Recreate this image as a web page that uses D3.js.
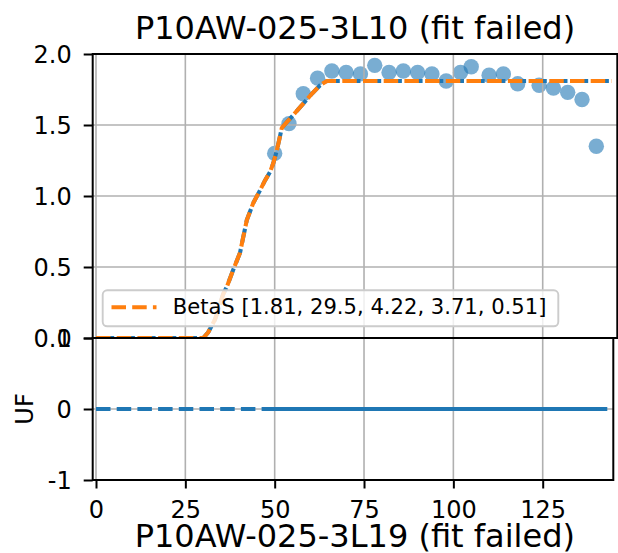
<!DOCTYPE html>
<html>
<head>
<meta charset="utf-8">
<script src="https://cdn.jsdelivr.net/npm/d3@7"></script>
<style>
  html, body { margin: 0; padding: 0; background: #fff; }
  svg { display: block; font-family: "DejaVu Sans", sans-serif; }
</style>
</head>
<body>
<svg id="chart" width="618" height="553"></svg>
<script>
// ---------- data ----------
const topTitle = "P10AW-025-3L10 (fit failed)";
const bottomTitle = "P10AW-025-3L19 (fit failed)";
const legendLabel = "BetaS [1.81, 29.5, 4.22, 3.71, 0.51]";
const yLabelBottom = "UF";

const dataX = [50, 54, 58, 62, 66, 70, 74, 78, 82, 86, 90, 94, 98, 102, 105, 110, 114, 118, 124, 128, 132, 136, 140];
const dataY = [1.30, 1.51, 1.72, 1.83, 1.88, 1.87, 1.86, 1.92, 1.87, 1.88, 1.87, 1.86, 1.81, 1.87, 1.91, 1.85, 1.86, 1.79, 1.78, 1.76, 1.73, 1.68, 1.35];

const fitX = [0, 30.0, 31.4, 33.3, 35.6, 36.6, 38.4, 40.3, 41.2, 42.2, 44.0, 45.9, 47.3, 48.7, 49.6, 50.6, 52.0, 53.4, 55.2, 58.0, 60.4, 62.7, 64.6, 67.4, 144.3];
const fitY = [0, 0, 0.04, 0.13, 0.31, 0.36, 0.48, 0.60, 0.71, 0.83, 0.95, 1.04, 1.11, 1.17, 1.23, 1.32, 1.48, 1.52, 1.57, 1.65, 1.72, 1.78, 1.81, 1.81, 1.81];

const zeroLineX = [0, 144.3];
const zeroLineY = [0, 0];
const residY = [0, 0, 0, 0, 0, 0, 0, 0, 0, 0, 0, 0, 0, 0, 0, 0, 0, 0, 0, 0, 0, 0, 0];

const xTicks = [0, 25, 50, 75, 100, 125];
const yTopTicks = [0.0, 0.5, 1.0, 1.5, 2.0];
const yBotTicks = [-1, 0, 1];
const yBotTickLabels = ["-1", "0", "1"];

// ---------- layout ----------
const C0 = "#1f77b4", C1 = "#ff7f0e";
const left = 92.7;
const topBox = { x0: left, x1: 617.3, y0: 54, y1: 338 };
const botBox = { x0: left, x1: 613.3, y0: 338, y1: 480 };
const pxPerUnit = (542.7 - 96) / 125;
const xmin = (left - 96) / pxPerUnit;

const xTop = d3.scaleLinear().domain([xmin, xmin + (topBox.x1 - topBox.x0) / pxPerUnit]).range([topBox.x0, topBox.x1]);
const xBot = d3.scaleLinear().domain([xmin, xmin + (botBox.x1 - botBox.x0) / pxPerUnit]).range([botBox.x0, botBox.x1]);
const yTop = d3.scaleLinear().domain([0, 2]).range([topBox.y1, topBox.y0]);
const yBot = d3.scaleLinear().domain([-1, 1]).range([botBox.y1, botBox.y0]);

const svg = d3.select("#chart");
const defs = svg.append("defs");
defs.append("clipPath").attr("id", "clipTop").append("rect")
  .attr("x", topBox.x0).attr("y", topBox.y0).attr("width", topBox.x1 - topBox.x0).attr("height", topBox.y1 - topBox.y0);
defs.append("clipPath").attr("id", "clipBot").append("rect")
  .attr("x", botBox.x0).attr("y", botBox.y0).attr("width", botBox.x1 - botBox.x0).attr("height", botBox.y1 - botBox.y0);

const gridColor = "#b0b0b0", gridW = 1.6;
const lw = 4.1, dash = "14.5,6.2";
const tickFont = 24;

// ---------- top panel ----------
const gT = svg.append("g");
gT.append("rect").attr("x", topBox.x0).attr("y", topBox.y0)
  .attr("width", topBox.x1 - topBox.x0).attr("height", topBox.y1 - topBox.y0).attr("fill", "#fff");
const gTc = gT.append("g").attr("clip-path", "url(#clipTop)");

// scatter (below grid, like matplotlib zorder)
gTc.append("g").selectAll("circle").data(dataX).join("circle")
  .attr("cx", (d) => xTop(d)).attr("cy", (d, i) => yTop(dataY[i]))
  .attr("r", 7.7).attr("fill", C0).attr("fill-opacity", 0.6);

// grid
gTc.append("g").selectAll("line").data(xTicks).join("line")
  .attr("x1", d => xTop(d)).attr("x2", d => xTop(d)).attr("y1", topBox.y0).attr("y2", topBox.y1)
  .attr("stroke", gridColor).attr("stroke-width", gridW);
gTc.append("g").selectAll("line").data(yTopTicks).join("line")
  .attr("x1", topBox.x0).attr("x2", topBox.x1).attr("y1", d => yTop(d)).attr("y2", d => yTop(d))
  .attr("stroke", gridColor).attr("stroke-width", gridW);

const fitPts = fitX.map((x, i) => [x, fitY[i]]);
const lineTop = d3.line().x(d => xTop(d[0])).y(d => yTop(d[1]));
gTc.append("path").attr("d", lineTop(fitPts)).attr("fill", "none")
  .attr("stroke", C0).attr("stroke-width", lw).attr("stroke-dasharray", dash).attr("stroke-dashoffset", 17);
gTc.append("path").attr("d", lineTop(fitPts)).attr("fill", "none")
  .attr("stroke", C1).attr("stroke-width", lw).attr("stroke-dasharray", dash);

// spines
gT.append("rect").attr("x", topBox.x0).attr("y", topBox.y0)
  .attr("width", topBox.x1 - topBox.x0).attr("height", topBox.y1 - topBox.y0)
  .attr("fill", "none").attr("stroke", "#000").attr("stroke-width", 2);

// y axis
const axT = gT.append("g").attr("transform", `translate(${topBox.x0},0)`)
  .call(d3.axisLeft(yTop).tickValues(yTopTicks).tickFormat(d3.format(".1f")).tickSize(9).tickPadding(12));
axT.select(".domain").remove();
axT.selectAll(".tick line").attr("stroke", "#000").attr("stroke-width", 2);
axT.selectAll(".tick text").attr("font-size", tickFont).attr("font-family", "DejaVu Sans").attr("fill", "#000").attr("dy", "0.36em");

// legend
const lg = gT.append("g");
lg.append("rect").attr("x", 102.7).attr("y", 290.3).attr("width", 455.6).attr("height", 36)
  .attr("rx", 4.5).attr("fill", "#fff").attr("fill-opacity", 0.8)
  .attr("stroke", "#cccccc").attr("stroke-width", 1.9);
lg.append("line").attr("x1", 111.5).attr("x2", 156.5).attr("y1", 307.3).attr("y2", 307.3)
  .attr("stroke", C1).attr("stroke-width", lw).attr("stroke-dasharray", dash);
lg.append("text").attr("x", 172.7).attr("y", 313.7).attr("font-size", 21.1).attr("fill", "#000")
  .text(legendLabel);

// title
svg.append("text").attr("x", 355).attr("y", 39.3).attr("text-anchor", "middle")
  .attr("font-size", 32).attr("fill", "#000").text(topTitle);

// ---------- bottom panel ----------
const gB = svg.append("g");
gB.append("rect").attr("x", botBox.x0).attr("y", botBox.y0 + 1)
  .attr("width", botBox.x1 - botBox.x0).attr("height", botBox.y1 - botBox.y0 - 1).attr("fill", "#fff");
const gBc = gB.append("g").attr("clip-path", "url(#clipBot)");
gBc.append("g").selectAll("line").data(xTicks).join("line")
  .attr("x1", d => xBot(d)).attr("x2", d => xBot(d)).attr("y1", botBox.y0).attr("y2", botBox.y1)
  .attr("stroke", gridColor).attr("stroke-width", gridW);
gBc.append("g").selectAll("line").data(yBotTicks).join("line")
  .attr("x1", botBox.x0).attr("x2", botBox.x1).attr("y1", d => yBot(d)).attr("y2", d => yBot(d))
  .attr("stroke", gridColor).attr("stroke-width", gridW);

const lineBot = d3.line().x(d => xBot(d[0])).y(d => yBot(d[1]));
gBc.append("path").attr("d", lineBot(zeroLineX.map((x, i) => [x, zeroLineY[i]]))).attr("fill", "none")
  .attr("stroke", C0).attr("stroke-width", lw).attr("stroke-dasharray", dash);
gBc.append("path").attr("d", lineBot(dataX.map((x, i) => [x, residY[i]]))).attr("fill", "none")
  .attr("stroke", C0).attr("stroke-width", lw);

gB.append("rect").attr("x", botBox.x0).attr("y", botBox.y0)
  .attr("width", botBox.x1 - botBox.x0).attr("height", botBox.y1 - botBox.y0)
  .attr("fill", "none").attr("stroke", "#000").attr("stroke-width", 2);

const axBY = gB.append("g").attr("transform", `translate(${botBox.x0},0)`)
  .call(d3.axisLeft(yBot).tickValues(yBotTicks).tickFormat((d, i) => yBotTickLabels[i]).tickSize(9).tickPadding(12));
axBY.select(".domain").remove();
axBY.selectAll(".tick line").attr("stroke", "#000").attr("stroke-width", 2);
axBY.selectAll(".tick text").attr("font-size", tickFont).attr("font-family", "DejaVu Sans").attr("fill", "#000").attr("dy", "0.36em");

const axBX = gB.append("g").attr("transform", `translate(0,${botBox.y1})`)
  .call(d3.axisBottom(xBot).tickValues(xTicks).tickFormat(d3.format("d")).tickSize(8.5).tickPadding(12.2));
axBX.select(".domain").remove();
axBX.selectAll(".tick line").attr("stroke", "#000").attr("stroke-width", 2);
axBX.selectAll(".tick text").attr("font-size", tickFont).attr("font-family", "DejaVu Sans").attr("fill", "#000");

svg.append("text").attr("transform", "translate(33,409) rotate(-90)").attr("text-anchor", "middle")
  .attr("font-size", 24).attr("fill", "#000").text(yLabelBottom);

svg.append("text").attr("x", 354.8).attr("y", 546.5).attr("text-anchor", "middle")
  .attr("font-size", 32).attr("fill", "#000").text(bottomTitle);
</script>
</body>
</html>
